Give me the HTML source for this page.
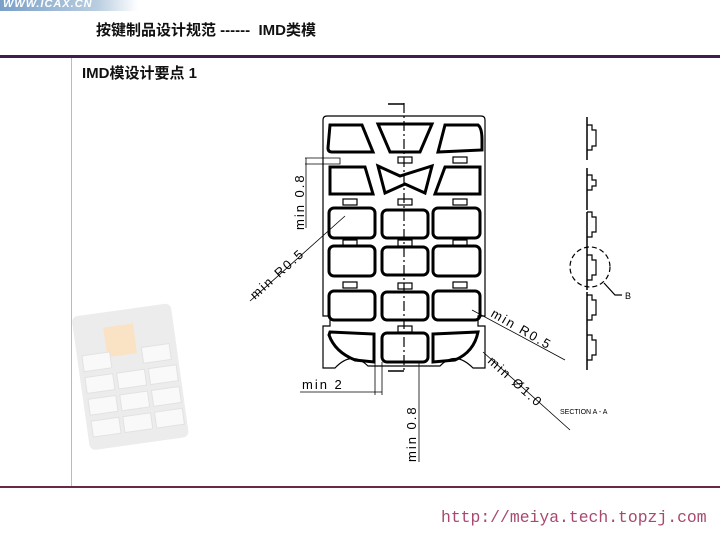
<!DOCTYPE html>
<html><head><meta charset="utf-8"><style>
body{margin:0;width:720px;height:540px;background:#fff;position:relative;overflow:hidden;font-family:"Liberation Sans","Noto Sans CJK SC",sans-serif}
.t{position:absolute;font-weight:bold;color:#111}
</style></head><body>
<div style="position:absolute;left:0;top:0;width:138px;height:11px;background:linear-gradient(90deg,#7aa0c8,#b8cde0 70%,#fff);"></div>
<div style="position:absolute;left:3px;top:-2px;font:italic bold 11px 'Liberation Sans',sans-serif;color:#fff;letter-spacing:1px">WWW.ICAX.CN</div>
<div class="t" style="left:96px;top:19px;font-size:15px">按键制品设计规范 ------&nbsp; IMD类模</div>
<div style="position:absolute;left:0;top:55px;width:720px;height:3px;background:#3a1f4f"></div>
<div style="position:absolute;left:71px;top:58px;width:1px;height:429px;background:#e0c040"></div>
<div class="t" style="left:82px;top:62px;font-size:15px">IMD模设计要点 1</div>
<div style="position:absolute;left:0;top:486px;width:720px;height:2px;background:#6a2848"></div>
<div style="position:absolute;left:441px;top:508px;font:16.4px 'Liberation Mono',monospace;color:#a84870">http://meiya.tech.topzj.com</div>
<svg width="720" height="540" style="position:absolute;left:0;top:0" font-family="Liberation Sans,sans-serif">
<g transform="rotate(-8 125 375)" opacity="0.6">
<rect x="80" y="310" width="100" height="135" rx="6" fill="#e0e0e0"/>
<rect x="110" y="325" width="30" height="30" fill="#f8d0a0"/>
<g fill="#f6f6f6" stroke="#d0d0d0">
<rect x="85" y="350" width="28" height="16"/><rect x="145" y="350" width="28" height="16"/>
<rect x="85" y="372" width="28" height="16"/><rect x="117" y="372" width="28" height="16"/><rect x="149" y="372" width="28" height="16"/>
<rect x="85" y="394" width="28" height="16"/><rect x="117" y="394" width="28" height="16"/><rect x="149" y="394" width="28" height="16"/>
<rect x="85" y="416" width="28" height="16"/><rect x="117" y="416" width="28" height="16"/><rect x="149" y="416" width="28" height="16"/>
</g></g>
<g fill="none" stroke="#000">
<path d="M323,120 Q323,116 327,116 L481,116 Q485,116 485,120 L485,316 L478,316 L478,326 L485,326 L485,368 L473,368 Q455,350 440,366 L368,366 Q352,350 335,368 L323,368 L323,326 L330,326 L330,316 L323,316 Z" stroke-width="1.2"/>
<g stroke-width="3">
<path d="M330,125 L362,125 L373,152 L332,152 Q328,152 328,148 Z"/>
<path d="M378,124 L432,124 L420,152 L390,152 Z"/>
<path d="M445,125 L478,125 Q482,128 482,140 L482,150 L438,152 Z"/>
<path d="M330,167 L365,167 L373,194 L330,194 Z"/>
<path d="M378,166 L400,176 L432,166 L425,193 L405,184 L385,193 Z"/>
<path d="M445,167 L480,167 L480,194 L435,194 Z"/>
<g>
<rect x="329" y="208" width="46" height="30" rx="5"/><rect x="382" y="210" width="46" height="28" rx="5"/><rect x="433" y="208" width="47" height="30" rx="5"/>
<rect x="329" y="246" width="46" height="30" rx="5"/><rect x="382" y="247" width="46" height="28" rx="5"/><rect x="433" y="246" width="47" height="30" rx="5"/>
<rect x="329" y="291" width="46" height="29" rx="5"/><rect x="382" y="292" width="46" height="28" rx="5"/><rect x="433" y="291" width="47" height="29" rx="5"/>
<path d="M330,332 L374,334 L374,362 L355,360 Q335,352 329,335 Z"/>
<rect x="382" y="333" width="46" height="29" rx="5"/>
<path d="M433,334 L478,332 Q474,352 455,360 L433,362 Z"/>
</g></g>
<g stroke-width="1.2">
<rect x="398" y="157" width="14" height="6"/><rect x="453" y="157" width="14" height="6"/>
<rect x="343" y="199" width="14" height="6"/><rect x="398" y="199" width="14" height="6"/><rect x="453" y="199" width="14" height="6"/>
<rect x="343" y="240" width="14" height="6"/><rect x="398" y="240" width="14" height="6"/><rect x="453" y="240" width="14" height="6"/>
<rect x="343" y="282" width="14" height="6"/><rect x="398" y="283" width="14" height="6"/><rect x="453" y="282" width="14" height="6"/>
<rect x="398" y="326" width="14" height="6"/>
</g>
<path d="M404,103 L404,372" stroke-width="1.2" stroke-dasharray="10,3,2,3"/>
<path d="M388,104 L404,104 M388,371 L404,371" stroke-width="1.5"/>
<g stroke-width="0.8">
<path d="M305,158 L340,158 L340,164 L305,164 M306,158 L306,228"/>
<path d="M250,301 L345,216"/>
<path d="M300,392 L382,392 M375,362 L375,395 M382,362 L382,395"/>
<path d="M419,362 L419,462"/>
<path d="M472,310 L565,360"/>
<path d="M483,352 L570,430"/>
</g>
<path d="M587,117 L587,160 M587,168 L587,210 M587,212 L587,290 M587,292 L587,370" stroke-width="1.5"/>
<g stroke-width="1.2">
<path d="M587,125 L592,125 L592,130 L596,130 L596,146 L592,146 L592,150 L587,150"/>
<path d="M587,175 L592,175 L592,180 L596,180 L596,186 L592,186 L592,190 L587,190"/>
<path d="M587,212 L592,212 L592,217 L596,217 L596,232 L592,232 L592,237 L587,237"/>
<path d="M587,255 L592,255 L592,260 L596,260 L596,275 L592,275 L592,280 L587,280"/>
<path d="M587,295 L592,295 L592,300 L596,300 L596,315 L592,315 L592,320 L587,320"/>
<path d="M587,335 L592,335 L592,340 L596,340 L596,355 L592,355 L592,360 L587,360"/>
<circle cx="590" cy="267" r="20" stroke-dasharray="5,3"/>
<path d="M604,283 L615,295 L622,295"/>
</g></g>
<g font-size="13" fill="#000" letter-spacing="2">
<text transform="translate(304,230) rotate(-90)">min 0.8</text>
<text transform="translate(255,300) rotate(-42)">min R0.5</text>
<text x="302" y="389">min 2</text>
<text transform="translate(416,462) rotate(-90)">min 0.8</text>
<text transform="translate(490,316) rotate(30)">min R0.5</text>
<text transform="translate(487,362) rotate(42)">min Ø1.0</text>
</g>
<text x="625" y="299" font-size="9">B</text>
<text x="560" y="414" font-size="7">SECTION A - A</text>
</svg>
</body></html>
